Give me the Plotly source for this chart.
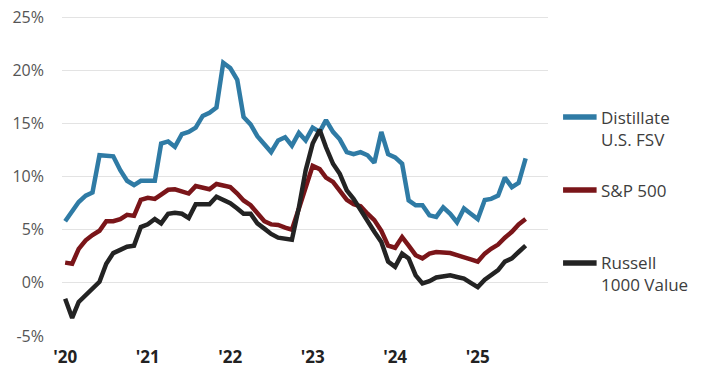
import pandas as pd
import plotly.graph_objects as go

months = pd.date_range("2020-01-01", "2025-08-01", freq="MS")

distillate = [5.8, 6.7, 7.6, 8.2, 8.5, 12.0, 11.9, 11.9, 10.6, 9.6, 9.2, 9.6,
              9.6, 9.6, 13.1, 13.3, 12.8, 14.0, 14.2, 14.6, 15.7, 16.0, 16.5, 20.7,
              20.2, 19.1, 15.6, 14.9, 13.8, 13.1, 12.3, 13.4, 13.7, 12.9, 14.1, 13.4,
              14.6, 14.2, 15.3, 14.2, 13.5, 12.3, 12.1, 12.3, 12.0, 11.3, 14.2, 12.1,
              11.8, 11.2, 7.75, 7.3, 7.3, 6.35, 6.2, 7.1, 6.5, 5.7, 7.0, 6.5,
              6.0, 7.8, 7.9, 8.2, 9.9, 9.0, 9.4, 11.7]

sp500 = [1.9, 1.8, 3.2, 4.0, 4.5, 4.9, 5.8, 5.8, 6.0, 6.4, 6.3, 7.8,
         8.0, 7.9, 8.3, 8.75, 8.8, 8.6, 8.4, 9.1, 9.0, 8.8, 9.3, 9.15,
         9.0, 8.4, 7.75, 7.3, 6.5, 5.8, 5.5, 5.45, 5.2, 5.0, 7.0, 9.0,
         11.0, 10.7, 9.9, 9.5, 8.7, 7.8, 7.4, 7.2, 6.5, 5.9, 4.9, 3.5,
         3.3, 4.3, 3.5, 2.6, 2.3, 2.75, 2.9, 2.9, 2.8, 2.6, 2.45, 2.2,
         2.0, 2.75, 3.2, 3.6, 4.25, 4.8, 5.5, 6.0]

russell = [-1.5, -3.3, -1.8, -1.15, -0.5, 0.1, 1.8, 2.8, 3.1, 3.4, 3.5, 5.25,
           5.5, 6.0, 5.6, 6.5, 6.6, 6.5, 6.1, 7.4, 7.4, 7.4, 8.1, 7.75,
           7.5, 7.0, 6.5, 6.5, 5.6, 5.1, 4.6, 4.25, 4.1, 4.05, 7.1, 10.6,
           13.1, 14.4, 12.75, 11.2, 10.25, 8.7, 7.9, 6.8, 5.9, 4.8, 3.85, 2.0,
           1.5, 2.75, 2.3, 0.7, -0.05, 0.15, 0.5, 0.55, 0.7, 0.55, 0.4, 0.0,
           -0.4, 0.3, 0.7, 1.2, 2.0, 2.3, 2.9, 3.5]

series_names = ["Distillate<br>U.S. FSV", "S&P 500", "Russell<br>1000 Value"]
series_colors = ["#2F7BA5", "#7A1519", "#232323"]
y_ticks = [-5, 0, 5, 10, 15, 20, 25]
y_tick_labels = ["-5%", "0%", "5%", "10%", "15%", "20%", "25%"]
x_ticks = ["2020-01-01", "2021-01-01", "2022-01-01", "2023-01-01", "2024-01-01", "2025-01-01"]
x_tick_labels = ["'20", "'21", "'22", "'23", "'24", "'25"]

FONT = "'Open Sans', Lato, sans-serif"

fig = go.Figure()
for vals, col in zip([distillate, sp500, russell], series_colors):
    fig.add_trace(go.Scatter(x=months, y=vals, mode="lines",
                             line=dict(color=col, width=4.5), showlegend=False,
                             hoverinfo="skip"))

# legend built from annotations and short line samples
legend_y_line = [0.684, 0.456, 0.228]
legend_y_text = [0.65, 0.456, 0.194]
for name, col, yl, yt in zip(series_names, series_colors, legend_y_line, legend_y_text):
    fig.add_shape(type="line", xref="paper", yref="paper", x0=1.031, x1=1.1,
                  y0=yl, y1=yl, line=dict(color=col, width=5.5))
    fig.add_annotation(xref="paper", yref="paper", x=1.104, y=yt, text=name,
                       showarrow=False, xanchor="left", yanchor="middle", align="left",
                       font=dict(family=FONT, size=17, color="#3d3d3d"))

fig.update_layout(
    width=715, height=376,
    margin=dict(l=62, r=167, t=16, b=40, pad=0, autoexpand=False),
    paper_bgcolor="white", plot_bgcolor="white",
    font=dict(family=FONT),
    showlegend=False,
)
fig.update_xaxes(
    range=["2019-12-18", "2025-11-08"],
    tickvals=x_ticks, ticktext=x_tick_labels,
    tickfont=dict(family=FONT, size=17, color="#222222", weight="bold"),
    showgrid=False, zeroline=False, showline=False, ticks="",
    ticklabelstandoff=9, automargin=False,
)
fig.update_yaxes(
    range=[-5, 25.1], tickvals=y_ticks, ticktext=y_tick_labels,
    tickfont=dict(family=FONT, size=16, color="#555555"),
    showgrid=True, gridcolor="#e3e3e3", gridwidth=1,
    zeroline=False, showline=False, ticks="",
    ticklabelstandoff=17, automargin=False,
)

fig.write_html("out.html",
               config={"displayModeBar": False, "staticPlot": True},
               post_script="document.body.style.margin='0';document.body.style.overflow='hidden';")
